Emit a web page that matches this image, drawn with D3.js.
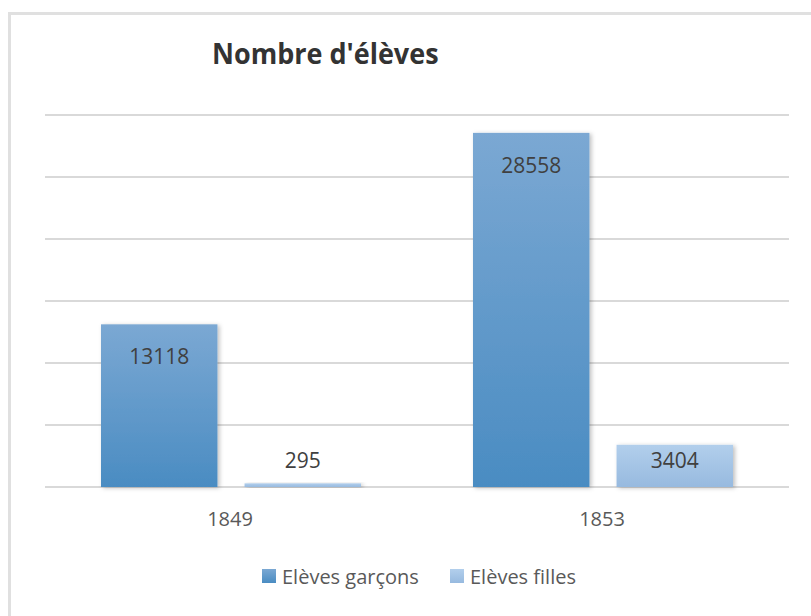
<!DOCTYPE html>
<meta charset="utf-8">
<script src="https://cdn.jsdelivr.net/npm/d3@7"></script>
<style>
body { margin: 0; background: #fff; }
text { font-family: "Open Sans", sans-serif; }
</style>
<body>
<script>

var years = ["1849", "1853"];
var series = ["Elèves garçons", "Elèves filles"];
var garcons = [13118, 28558];
var filles = [295, 3404];
var yTicks = [0, 5000, 10000, 15000, 20000, 25000, 30000];

var width = 811, height = 616;
var plot = {left: 45, right: 789, top: 115, bottom: 487};

var svg = d3.select("body").append("svg")
    .attr("width", width)
    .attr("height", height);

var defs = svg.append("defs");

function grad(id, top, bottom) {
  var g = defs.append("linearGradient").attr("id", id)
      .attr("x1", 0).attr("y1", 0).attr("x2", 0).attr("y2", 1);
  g.append("stop").attr("offset", "0%").attr("stop-color", top);
  g.append("stop").attr("offset", "100%").attr("stop-color", bottom);
}
grad("g0", "#7ba8d3", "#4a8cc2");
grad("g1", "#b2cfec", "#97badf");

var shadow = defs.append("filter").attr("id", "shadow")
    .attr("x", "-10%").attr("y", "-10%").attr("width", "130%").attr("height", "130%");
shadow.append("feDropShadow")
    .attr("dx", 2).attr("dy", 1).attr("stdDeviation", 2)
    .attr("flood-color", "#000").attr("flood-opacity", 0.25);

// chart frame (runs off the right / bottom edges)
svg.append("rect")
    .attr("x", 9.5).attr("y", 13.5)
    .attr("width", 820).attr("height", 620)
    .attr("fill", "none")
    .attr("stroke", "#e0e0e0")
    .attr("stroke-width", 3);

// title
svg.append("text")
    .attr("transform", "translate(212,64) scale(1,1.08)")
    .style("font-size", "27px")
    .style("font-weight", "bold")
    .attr("fill", "#333")
    .text("Nombre d'élèves");

var y = d3.scaleLinear()
    .domain([0, 30000])
    .range([plot.bottom, plot.top]);

var x0 = d3.scaleBand()
    .domain(years)
    .range([plot.left, plot.right]);

var x1 = d3.scaleBand()
    .domain(series)
    .range([56, x0.bandwidth() - 56])
    .paddingInner(27 / 143);

// gridlines
svg.append("g")
    .selectAll("line")
    .data(yTicks)
    .enter().append("line")
    .attr("x1", plot.left).attr("x2", plot.right)
    .attr("y1", function(d) { return y(d); })
    .attr("y2", function(d) { return y(d); })
    .attr("stroke", "#d9d9d9")
    .attr("stroke-width", 2);

var data = [];
years.forEach(function(yr, i) {
  data.push({year: yr, serie: series[0], value: garcons[i], k: 0});
  data.push({year: yr, serie: series[1], value: filles[i], k: 1});
});

svg.append("g")
    .selectAll("rect")
    .data(data)
    .enter().append("rect")
    .attr("x", function(d) { return x0(d.year) + x1(d.serie); })
    .attr("y", function(d) { return y(d.value); })
    .attr("width", x1.bandwidth())
    .attr("height", function(d) { return y(0) - y(d.value); })
    .attr("fill", function(d) { return "url(#g" + d.k + ")"; })
    .attr("filter", "url(#shadow)");

// data labels
svg.append("g")
    .selectAll("text")
    .data(data)
    .enter().append("text")
    .attr("x", function(d) { return x0(d.year) + x1(d.serie) + x1.bandwidth() / 2; })
    .attr("y", function(d) {
      var h = y(0) - y(d.value);
      return h > 80 ? y(d.value) + 40 : y(0) - 19;
    })
    .attr("text-anchor", "middle")
    .style("font-size", "21px")
    .attr("fill", "#404040")
    .text(function(d) { return d.value; });

// category axis labels
svg.append("g")
    .selectAll("text")
    .data(years)
    .enter().append("text")
    .attr("x", function(d) { return x0(d) + x0.bandwidth() / 2 - 1; })
    .attr("y", 526)
    .attr("text-anchor", "middle")
    .style("font-size", "20px")
    .attr("fill", "#595959")
    .text(function(d) { return d; });

// legend
var legendX = [262, 450];
var legend = svg.append("g")
    .selectAll("g")
    .data(series)
    .enter().append("g")
    .attr("transform", function(d, i) { return "translate(" + legendX[i] + ",569)"; });

legend.append("rect")
    .attr("width", 14).attr("height", 14)
    .attr("fill", function(d, i) { return "url(#g" + i + ")"; });

legend.append("text")
    .attr("x", 20).attr("y", 15)
    .style("font-size", "20px")
    .attr("fill", "#595959")
    .text(function(d) { return d; });

</script>
</body>
</html>
